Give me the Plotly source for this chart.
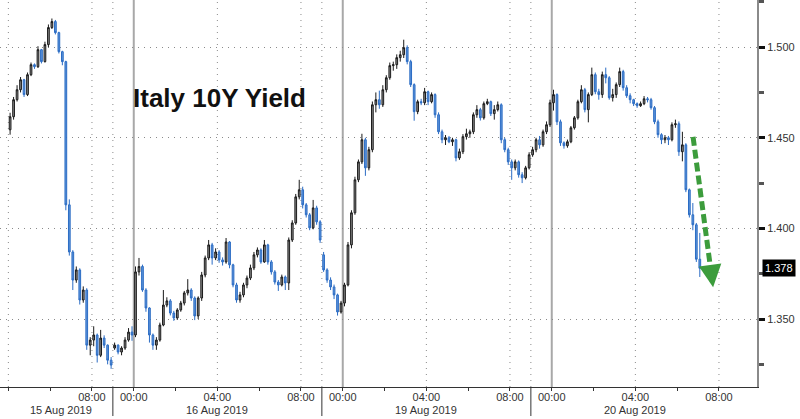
import plotly.graph_objects as go

# ---------------- data (10-minute bars) ----------------
session_dates = ["15 Aug 2019", "16 Aug 2019", "19 Aug 2019", "20 Aug 2019"]
session_start_hour = [4, 23, 23, 23]      # clock hour of first bar
session_length_hours = [5, 10, 10, 10]    # visible trading hours per session
bar_minutes = 10

open_15 = [1.4544, 1.4616, 1.4710, 1.4765, 1.4820, 1.4738, 1.4848, 1.4903, 1.4892, 1.4986,
           1.4920, 1.5014, 1.5108, 1.5141, 1.5080, 1.4975, 1.4920, 1.4130, 1.3870, 1.3715,
           1.3771, 1.3605, 1.3660, 1.3356, 1.3384, 1.3412, 1.3300, 1.3395, 1.3356, 1.3273]
high_15 = [1.4638, 1.4725, 1.4790, 1.4835, 1.4825, 1.4860, 1.4915, 1.4910, 1.5005, 1.4990,
           1.5030, 1.5125, 1.5158, 1.5150, 1.5085, 1.4980, 1.4925, 1.4160, 1.3880, 1.3790,
           1.3780, 1.3680, 1.3670, 1.3400, 1.3460, 1.3420, 1.3440, 1.3410, 1.3360, 1.3290]
low_15 = [1.4517, 1.4600, 1.4700, 1.4750, 1.4725, 1.4730, 1.4840, 1.4880, 1.4885, 1.4910,
          1.4915, 1.5000, 1.5100, 1.5070, 1.4965, 1.4900, 1.4100, 1.3850, 1.3660, 1.3700,
          1.3580, 1.3590, 1.3330, 1.3300, 1.3350, 1.3260, 1.3290, 1.3340, 1.3250, 1.3225]
close_15 = [1.4616, 1.4710, 1.4765, 1.4820, 1.4738, 1.4848, 1.4903, 1.4892, 1.4986, 1.4920,
            1.5014, 1.5108, 1.5141, 1.5080, 1.4975, 1.4920, 1.4130, 1.3870, 1.3715, 1.3771,
            1.3605, 1.3660, 1.3356, 1.3384, 1.3412, 1.3300, 1.3395, 1.3356, 1.3273, 1.3246]

open_16 = [1.3340, 1.3356, 1.3318, 1.3340, 1.3384, 1.3428, 1.3412, 1.3760, 1.3790, 1.3660,
           1.3561, 1.3412, 1.3356, 1.3384, 1.3467, 1.3577, 1.3600, 1.3533, 1.3506, 1.3550,
           1.3588, 1.3644, 1.3660, 1.3616, 1.3517, 1.3616, 1.3743, 1.3837, 1.3909, 1.3837,
           1.3870, 1.3826, 1.3815, 1.3925, 1.3799, 1.3688, 1.3605, 1.3633, 1.3688, 1.3726,
           1.3782, 1.3854, 1.3881, 1.3815, 1.3909, 1.3815, 1.3760, 1.3704, 1.3688, 1.3732,
           1.3699, 1.3936, 1.4030, 1.4174, 1.4213, 1.4130, 1.4075, 1.4003, 1.4113, 1.4036]
high_16 = [1.3370, 1.3360, 1.3350, 1.3400, 1.3450, 1.3460, 1.3790, 1.3837, 1.3800, 1.3670,
           1.3565, 1.3420, 1.3400, 1.3480, 1.3660, 1.3620, 1.3610, 1.3545, 1.3560, 1.3600,
           1.3655, 1.3720, 1.3670, 1.3625, 1.3625, 1.3760, 1.3850, 1.3936, 1.3920, 1.3890,
           1.3880, 1.3840, 1.3947, 1.3930, 1.3805, 1.3700, 1.3650, 1.3700, 1.3740, 1.3800,
           1.3870, 1.3895, 1.3890, 1.3936, 1.3915, 1.3825, 1.3770, 1.3715, 1.3745, 1.3740,
           1.3950, 1.4045, 1.4190, 1.4268, 1.4230, 1.4140, 1.4085, 1.4157, 1.4125, 1.4045]
low_16 = [1.3330, 1.3305, 1.3300, 1.3330, 1.3375, 1.3380, 1.3400, 1.3740, 1.3650, 1.3540,
          1.3370, 1.3330, 1.3330, 1.3375, 1.3460, 1.3565, 1.3520, 1.3490, 1.3495, 1.3540,
          1.3575, 1.3630, 1.3600, 1.3494, 1.3500, 1.3600, 1.3730, 1.3825, 1.3800, 1.3825,
          1.3810, 1.3795, 1.3805, 1.3780, 1.3675, 1.3590, 1.3590, 1.3620, 1.3670, 1.3715,
          1.3770, 1.3840, 1.3805, 1.3810, 1.3800, 1.3745, 1.3690, 1.3655, 1.3680, 1.3660,
          1.3660, 1.3925, 1.4020, 1.4160, 1.4110, 1.4060, 1.3990, 1.3995, 1.4020, 1.3920]
close_16 = [1.3356, 1.3318, 1.3340, 1.3384, 1.3428, 1.3412, 1.3760, 1.3790, 1.3660, 1.3561,
            1.3412, 1.3356, 1.3384, 1.3467, 1.3577, 1.3600, 1.3533, 1.3506, 1.3550, 1.3588,
            1.3644, 1.3660, 1.3616, 1.3517, 1.3616, 1.3743, 1.3837, 1.3909, 1.3837, 1.3870,
            1.3826, 1.3815, 1.3925, 1.3799, 1.3688, 1.3605, 1.3633, 1.3688, 1.3726, 1.3782,
            1.3854, 1.3881, 1.3815, 1.3909, 1.3815, 1.3760, 1.3704, 1.3688, 1.3732, 1.3699,
            1.3936, 1.4030, 1.4174, 1.4213, 1.4130, 1.4075, 1.4003, 1.4113, 1.4036, 1.3936]

open_19 = [1.3854, 1.3771, 1.3715, 1.3677, 1.3633, 1.3539, 1.3588, 1.3688, 1.3909, 1.4086,
           1.4268, 1.4367, 1.4489, 1.4334, 1.4434, 1.4682, 1.4710, 1.4682, 1.4765, 1.4831,
           1.4898, 1.4903, 1.4942, 1.4958, 1.4997, 1.4920, 1.4793, 1.4644, 1.4699, 1.4693,
           1.4754, 1.4699, 1.4738, 1.4627, 1.4533, 1.4489, 1.4500, 1.4478, 1.4489, 1.4389,
           1.4423, 1.4506, 1.4522, 1.4533, 1.4627, 1.4655, 1.4610, 1.4688, 1.4699, 1.4633,
           1.4655, 1.4682, 1.4489, 1.4434, 1.4367, 1.4334, 1.4367, 1.4296, 1.4279, 1.4334]
high_19 = [1.3870, 1.3780, 1.3730, 1.3690, 1.3640, 1.3600, 1.3700, 1.3925, 1.4100, 1.4285,
           1.4380, 1.4522, 1.4500, 1.4450, 1.4700, 1.4750, 1.4760, 1.4790, 1.4845, 1.4915,
           1.4920, 1.4960, 1.4980, 1.5041, 1.5010, 1.4930, 1.4800, 1.4710, 1.4715, 1.4775,
           1.4760, 1.4750, 1.4745, 1.4640, 1.4545, 1.4515, 1.4510, 1.4500, 1.4495, 1.4440,
           1.4520, 1.4550, 1.4545, 1.4640, 1.4680, 1.4665, 1.4700, 1.4715, 1.4705, 1.4680,
           1.4700, 1.4690, 1.4500, 1.4445, 1.4380, 1.4380, 1.4375, 1.4310, 1.4345, 1.4420]
low_19 = [1.3760, 1.3700, 1.3660, 1.3610, 1.3519, 1.3530, 1.3570, 1.3680, 1.3890, 1.4075,
          1.4255, 1.4355, 1.4290, 1.4320, 1.4420, 1.4640, 1.4660, 1.4670, 1.4750, 1.4820,
          1.4870, 1.4880, 1.4920, 1.4940, 1.4905, 1.4780, 1.4594, 1.4630, 1.4680, 1.4680,
          1.4680, 1.4690, 1.4610, 1.4520, 1.4470, 1.4460, 1.4470, 1.4455, 1.4370, 1.4378,
          1.4410, 1.4490, 1.4500, 1.4520, 1.4610, 1.4595, 1.4600, 1.4680, 1.4620, 1.4600,
          1.4645, 1.4470, 1.4420, 1.4350, 1.4268, 1.4320, 1.4280, 1.4250, 1.4270, 1.4325]
close_19 = [1.3771, 1.3715, 1.3677, 1.3633, 1.3539, 1.3588, 1.3688, 1.3909, 1.4086, 1.4268,
            1.4367, 1.4489, 1.4334, 1.4434, 1.4682, 1.4710, 1.4682, 1.4765, 1.4831, 1.4898,
            1.4903, 1.4942, 1.4958, 1.4997, 1.4920, 1.4793, 1.4644, 1.4699, 1.4693, 1.4754,
            1.4699, 1.4738, 1.4627, 1.4533, 1.4489, 1.4500, 1.4478, 1.4489, 1.4389, 1.4423,
            1.4506, 1.4522, 1.4533, 1.4627, 1.4655, 1.4610, 1.4688, 1.4699, 1.4633, 1.4655,
            1.4682, 1.4489, 1.4434, 1.4367, 1.4334, 1.4367, 1.4296, 1.4279, 1.4334, 1.4406]

open_20 = [1.4406, 1.4434, 1.4489, 1.4461, 1.4533, 1.4572, 1.4693, 1.4738, 1.4588, 1.4472,
           1.4456, 1.4478, 1.4555, 1.4610, 1.4699, 1.4765, 1.4655, 1.4738, 1.4848, 1.4754,
           1.4738, 1.4848, 1.4831, 1.4721, 1.4738, 1.4793, 1.4865, 1.4776, 1.4732, 1.4710,
           1.4688, 1.4677, 1.4688, 1.4715, 1.4710, 1.4666, 1.4588, 1.4517, 1.4489, 1.4500,
           1.4489, 1.4572, 1.4577, 1.4423, 1.4461, 1.4213, 1.4075, 1.4020, 1.3830]
high_20 = [1.4450, 1.4500, 1.4510, 1.4545, 1.4590, 1.4710, 1.4765, 1.4745, 1.4600, 1.4480,
           1.4490, 1.4565, 1.4620, 1.4710, 1.4790, 1.4775, 1.4750, 1.4887, 1.4860, 1.4770,
           1.4865, 1.4887, 1.4840, 1.4770, 1.4805, 1.4887, 1.4875, 1.4790, 1.4745, 1.4715,
           1.4695, 1.4700, 1.4730, 1.4725, 1.4720, 1.4675, 1.4600, 1.4525, 1.4515, 1.4510,
           1.4585, 1.4600, 1.4590, 1.4533, 1.4470, 1.4220, 1.4140, 1.4030, 1.3975]
low_20 = [1.4395, 1.4420, 1.4440, 1.4450, 1.4520, 1.4560, 1.4650, 1.4570, 1.4455, 1.4440,
          1.4445, 1.4470, 1.4545, 1.4600, 1.4690, 1.4640, 1.4585, 1.4730, 1.4740, 1.4710,
          1.4720, 1.4800, 1.4710, 1.4700, 1.4720, 1.4780, 1.4760, 1.4720, 1.4690, 1.4675,
          1.4665, 1.4670, 1.4680, 1.4695, 1.4655, 1.4575, 1.4500, 1.4465, 1.4470, 1.4460,
          1.4480, 1.4555, 1.4400, 1.4370, 1.4200, 1.4060, 1.3990, 1.3815, 1.3732]
close_20 = [1.4434, 1.4489, 1.4461, 1.4533, 1.4572, 1.4693, 1.4738, 1.4588, 1.4472, 1.4456,
            1.4478, 1.4555, 1.4610, 1.4699, 1.4765, 1.4655, 1.4738, 1.4848, 1.4754, 1.4738,
            1.4848, 1.4831, 1.4721, 1.4738, 1.4793, 1.4865, 1.4776, 1.4732, 1.4710, 1.4688,
            1.4677, 1.4688, 1.4715, 1.4710, 1.4666, 1.4588, 1.4517, 1.4489, 1.4500, 1.4489,
            1.4572, 1.4577, 1.4423, 1.4461, 1.4213, 1.4075, 1.4020, 1.3830, 1.3780]

last_value = 1.378
chart_title = "Italy 10Y Yield"

y_tick_values = [1.35, 1.40, 1.45, 1.50]
tick_session = [0, 1, 1, 1, 2, 2, 2, 3, 3, 3]
tick_hour = [8, 0, 4, 8, 0, 4, 8, 0, 4, 8]
tick_labels = ["08:00", "00:00", "04:00", "08:00", "00:00", "04:00", "08:00", "00:00", "04:00", "08:00"]

# ---------------- build compressed session-time axis ----------------
opens = [open_15, open_16, open_19, open_20]
highs = [high_15, high_16, high_19, high_20]
lows = [low_15, low_16, low_19, low_20]
closes = [close_15, close_16, close_19, close_20]

offsets = []
acc = 0
for L in session_length_hours:
    offsets.append(acc)
    acc += L

def pos(session, hour):
    return offsets[session] + (hour - session_start_hour[session]) % 24

X, O, H, Lo, C = [], [], [], [], []
for s in range(4):
    n = len(opens[s])
    for i in range(n):
        X.append(offsets[s] + (i + 0.5) * bar_minutes / 60.0)
    O += opens[s]; H += highs[s]; Lo += lows[s]; C += closes[s]

FONT = "Liberation Sans, Arial, sans-serif"

fig = go.Figure()
fig.add_trace(go.Candlestick(
    x=X, open=O, high=H, low=Lo, close=C,
    increasing=dict(line=dict(color="#1a1a1a", width=1), fillcolor="#8c8c8c"),
    decreasing=dict(line=dict(color="#2b6cc4", width=1), fillcolor="#5f95da"),
    whiskerwidth=0, showlegend=False, hoverinfo="skip",
))

# vertical grid / separators
shapes = []
grid_color = "#8a8a8a"
dot = "1px,5px"
for s in range(4):
    for h in [0, 4, 8]:
        p = pos(s, h)
        if 0 <= p - offsets[s] <= session_length_hours[s]:
            if h == 0:
                shapes.append(dict(type="line", xref="x", yref="paper", x0=p, x1=p, y0=0, y1=1,
                                   line=dict(color="#a8a8a8", width=2), layer="below"))
            else:
                shapes.append(dict(type="line", xref="x", yref="paper", x0=p, x1=p, y0=0, y1=1,
                                   line=dict(color=grid_color, width=1, dash=dot), layer="below"))
    if s > 0:
        b = offsets[s]
        shapes.append(dict(type="line", xref="x", yref="paper", x0=b, x1=b, y0=0, y1=1,
                           line=dict(color=grid_color, width=1, dash=dot), layer="below"))
        shapes.append(dict(type="line", xref="x", yref="paper", x0=b, x1=b, y0=0, y1=-0.075,
                           line=dict(color="#333333", width=1)))

# green dashed arrow
arrow_start = (32.76, 1.4505)
arrow_tip = (33.72, 1.3675)
green = "#3c9c3c"
shapes.append(dict(type="line", xref="x", yref="y",
                   x0=arrow_start[0], y0=arrow_start[1],
                   x1=arrow_start[0] + (arrow_tip[0] - arrow_start[0]) * 0.9,
                   y1=arrow_start[1] + (arrow_tip[1] - arrow_start[1]) * 0.9,
                   line=dict(color=green, width=5, dash="9px,4px")))

annotations = [
    dict(text="<b>" + chart_title + "</b>", xref="paper", yref="paper", x=219 / 757, y=1 - 98 / 387,
         xanchor="center", yanchor="middle", showarrow=False,
         font=dict(family=FONT, size=26, color="#111111")),
    dict(text=str(last_value), xref="paper", yref="y", x=1, y=last_value, xanchor="left",
         xshift=5, yanchor="middle", showarrow=False, bgcolor="#000000", borderpad=2,
         font=dict(family=FONT, size=11, color="#ffffff")),
    dict(x=arrow_tip[0], y=arrow_tip[1], xref="x", yref="y",
         ax=arrow_start[0] + (arrow_tip[0] - arrow_start[0]) * 0.85,
         ay=arrow_start[1] + (arrow_tip[1] - arrow_start[1]) * 0.85,
         axref="x", ayref="y", text="", showarrow=True, arrowhead=2, arrowsize=0.9,
         arrowwidth=5, arrowcolor=green, standoff=0),
]
date_pos = [2.5, pos(1, 4), pos(2, 4), pos(3, 4)]
for d, p in zip(session_dates, date_pos):
    annotations.append(dict(text=d, xref="x", yref="paper", x=p, y=-0.059, xanchor="center",
                            yanchor="middle", showarrow=False,
                            font=dict(family=FONT, size=11, color="#333333")))

tickvals = [pos(s, h) for s, h in zip(tick_session, tick_hour)]
minor_vals = []
for s in range(4):
    for k in range(0, session_length_hours[s] + 1):
        h = (session_start_hour[s] + k) % 24
        if h % 2 == 0:
            minor_vals.append(offsets[s] + k)

fig.update_layout(
    width=800, height=419,
    margin=dict(l=0, r=43, t=0, b=32, autoexpand=False),
    paper_bgcolor="white", plot_bgcolor="white",
    showlegend=False,
    shapes=shapes, annotations=annotations,
    font=dict(family=FONT, size=11, color="#333333"),
    xaxis=dict(range=[-0.40, 35.82], rangeslider=dict(visible=False),
               tickmode="array", tickvals=tickvals, ticktext=tick_labels,
               ticks="outside", ticklen=3, tickcolor="#333333", ticklabelstandoff=-3,
               minor=dict(tickmode="array", tickvals=minor_vals, ticks="outside", ticklen=3,
                          tickcolor="#333333", showgrid=False),
               showgrid=False, zeroline=False, showline=True, linecolor="#333333", linewidth=1,
               fixedrange=True, automargin=False),
    yaxis=dict(side="right", range=[1.3125, 1.526], tickmode="array", tickvals=y_tick_values,
               tickformat=".3f", ticks="outside", ticklen=6, tickwidth=3, tickcolor="#111111",
               minor=dict(dtick=0.025, tick0=1.325, ticks="outside", ticklen=5,
                          tickcolor="#555555", showgrid=False),
               showgrid=True, gridcolor=grid_color, griddash=dot, gridwidth=1,
               zeroline=False, showline=True, linecolor="#8a8a8a", linewidth=2,
               fixedrange=True, automargin=False),
)

fig.write_html("out.html", config={"displayModeBar": False},
               post_script="document.body.style.margin='0';document.body.style.padding='0';")
